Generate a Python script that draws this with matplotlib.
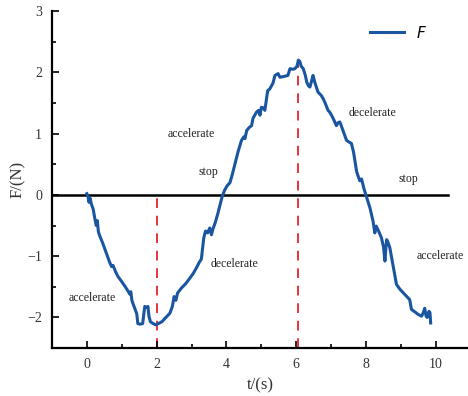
import matplotlib
matplotlib.use('Agg')
import matplotlib.pyplot as plt
from matplotlib.ticker import MultipleLocator

# curve (t in s, F in N)
t = [0.00, 0.03, 0.06, 0.09, 0.13, 0.18, 0.23, 0.27, 0.30, 0.33, 0.37, 0.45, 0.52, 0.60,
     0.66, 0.71, 0.75, 0.82, 0.89, 0.98, 1.09, 1.18, 1.23, 1.26, 1.29, 1.32, 1.38, 1.43,
     1.46, 1.52, 1.60, 1.63, 1.66, 1.72, 1.75, 1.78, 1.82, 1.90, 1.97, 2.05, 2.15, 2.25,
     2.38, 2.45, 2.50, 2.55, 2.60, 2.71, 2.83, 2.95, 3.05, 3.14, 3.22, 3.28, 3.31, 3.35,
     3.40, 3.46, 3.52, 3.57, 3.61, 3.68, 3.75, 3.82, 3.88, 3.95, 4.02, 4.10, 4.17, 4.24,
     4.33, 4.43, 4.50, 4.53, 4.58, 4.65, 4.72, 4.76, 4.86, 4.92, 4.96, 5.00, 5.06, 5.10,
     5.13, 5.18, 5.24, 5.33, 5.39, 5.48, 5.53, 5.62, 5.70, 5.76, 5.82, 5.90, 5.96, 6.02,
     6.06, 6.10, 6.14, 6.20, 6.26, 6.30, 6.35, 6.39, 6.44, 6.48, 6.53, 6.58, 6.62, 6.72,
     6.77, 6.82, 6.91, 6.96, 7.01, 7.08, 7.15, 7.20, 7.25, 7.34, 7.44, 7.52, 7.58, 7.64,
     7.68, 7.73, 7.77, 7.82, 7.87, 7.94, 8.01, 8.11, 8.20, 8.25, 8.29, 8.35, 8.44, 8.50,
     8.54, 8.57, 8.59, 8.63, 8.68, 8.77, 8.87, 8.97, 9.10, 9.25, 9.30, 9.40, 9.49, 9.59,
     9.64, 9.68, 9.72, 9.75, 9.80, 9.83, 9.85]
F = [0.02, -0.02, -0.12, -0.05, -0.15, -0.23, -0.39, -0.50, -0.42, -0.60, -0.67, -0.78, -0.89, -1.02,
     -1.11, -1.17, -1.15, -1.25, -1.33, -1.40, -1.49, -1.57, -1.62, -1.58, -1.72, -1.77, -1.86, -1.94,
     -2.10, -2.11, -2.10, -1.95, -1.82, -1.84, -1.82, -1.98, -2.07, -2.10, -2.12, -2.10, -2.07, -2.01,
     -1.93, -1.82, -1.66, -1.72, -1.60, -1.52, -1.45, -1.36, -1.28, -1.19, -1.10, -1.05, -0.90, -0.70,
     -0.59, -0.62, -0.54, -0.65, -0.56, -0.45, -0.31, -0.15, -0.02, 0.08, 0.15, 0.20, 0.34, 0.50,
     0.70, 0.89, 0.95, 0.92, 1.05, 1.10, 1.13, 1.25, 1.35, 1.38, 1.30, 1.43, 1.42, 1.38,
     1.50, 1.70, 1.73, 1.82, 1.95, 1.98, 1.92, 1.93, 1.94, 1.95, 2.06, 2.05, 2.06, 2.10,
     2.20, 2.18, 2.10, 2.06, 1.95, 1.84, 1.78, 1.76, 1.86, 1.95, 1.84, 1.75, 1.68, 1.62,
     1.57, 1.51, 1.38, 1.35, 1.30, 1.22, 1.13, 1.18, 1.19, 1.05, 0.89, 0.86, 0.84, 0.70,
     0.56, 0.38, 0.31, 0.23, 0.26, 0.10, -0.03, -0.21, -0.43, -0.62, -0.51, -0.58, -0.70, -0.85,
     -1.08, -0.85, -0.73, -0.78, -0.86, -1.14, -1.46, -1.54, -1.62, -1.71, -1.87, -1.91, -1.95, -1.98,
     -1.92, -1.85, -1.98, -2.00, -1.90, -1.92, -2.09]

# dashed markers at the extremes
dash_t = [2.0, 6.06]
dash_top = [0.0, 2.2]

# phase labels
labels = ['accelerate', 'accelerate', 'stop', 'decelerate', 'decelerate', 'stop', 'accelerate']
label_t = [0.15, 2.98, 3.47, 4.24, 8.17, 9.2, 10.12]
label_F = [-1.69, 1.0, 0.38, -1.13, 1.33, 0.26, -1.0]

plt.rcParams['font.family'] = ['Liberation Serif', 'DejaVu Serif']
plt.rcParams['axes.unicode_minus'] = True

fig = plt.figure(figsize=(4.68, 3.96), dpi=100)
ax = fig.add_axes([0.111, 0.121, 0.889, 0.851])

ax.plot([-1, 10.35], [0, 0], color='black', lw=1.8, zorder=2)
for x, top in zip(dash_t, dash_top):
    ax.plot([x, x], [-2.5, top], color='#e8333c', lw=1.4, ls=(0, (5, 4)), zorder=1)
ax.plot(t, F, color='#1a56a0', lw=2.2, label='$F$', zorder=3)

for s, x, y in zip(labels, label_t, label_F):
    ax.text(x, y, s, fontsize=8.5, ha='center', va='center', color='#222222')

ax.set_xlim(-1, 10.92)
ax.set_ylim(-2.5, 3)
ax.xaxis.set_major_locator(MultipleLocator(2))
ax.xaxis.set_minor_locator(MultipleLocator(1))
ax.yaxis.set_major_locator(MultipleLocator(1))
ax.yaxis.set_minor_locator(MultipleLocator(0.5))
ax.tick_params(which='both', direction='in', labelsize=10, labelcolor='#333333', width=1.2)
ax.tick_params(which='major', length=5)
ax.tick_params(which='minor', length=3)
ax.tick_params(axis='y', pad=7)
ax.tick_params(axis='x', pad=7)
for side in ['top', 'right']:
    ax.spines[side].set_visible(False)
for side in ['left', 'bottom']:
    ax.spines[side].set_linewidth(1.6)

ax.set_xlabel('t/(s)', fontsize=12, labelpad=5, color='#333333')
ax.set_ylabel('F/(N)', fontsize=12, labelpad=1, color='#333333')

ax.legend(loc='upper right', bbox_to_anchor=(0.935, 1.0), frameon=False,
          handlelength=2.2, prop={'family': 'DejaVu Sans', 'size': 11})

fig.savefig('out.png', dpi=100)
